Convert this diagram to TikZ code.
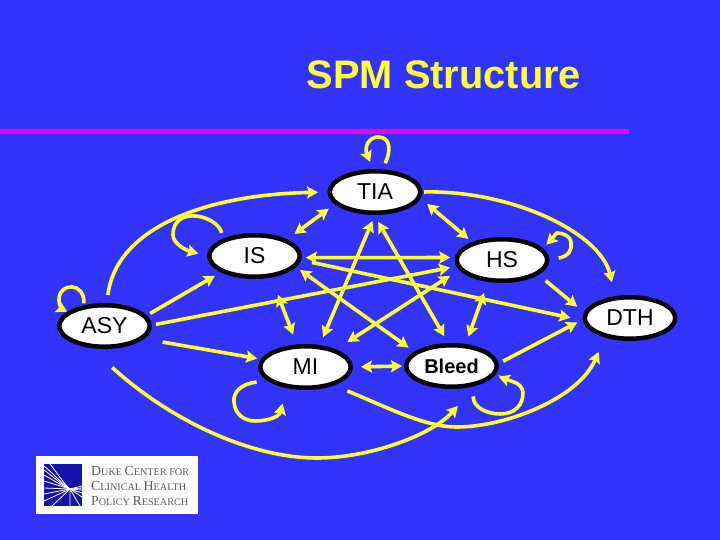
\documentclass[tikz,border=0pt]{standalone}
\usepackage{fontspec}
\setmainfont{Liberation Sans}
\newfontfamily\logofont{Liberation Serif}
\usetikzlibrary{shapes.geometric,arrows.meta}
\definecolor{bgblue}{RGB}{51,51,255}
\definecolor{rulemag}{RGB}{235,0,240}
\definecolor{linkyel}{RGB}{255,255,51}
\definecolor{logoblue}{RGB}{20,20,170}
\definecolor{logotext}{RGB}{90,90,100}
\tikzset{
  x=1pt,y=-1pt,
  state/.style={ellipse,draw=black,fill=white,line width=4.5pt,minimum width=90.5pt,minimum height=41.5pt,inner sep=0pt,text=black,font=\fontsize{23}{26}\selectfont},
  one/.style={draw=linkyel,line width=3.6pt,-{Stealth[length=11pt,width=12pt,inset=2pt]}},
  two/.style={draw=linkyel,line width=3.6pt,{Stealth[length=11pt,width=12pt,inset=2pt]}-{Stealth[length=11pt,width=12pt,inset=2pt]}},
  ray/.style={draw=white,line width=0.8pt},
  logoline/.style={anchor=west,inner sep=0pt,text=logotext,font=\logofont\fontsize{10.2}{12}\selectfont},
}
\newcommand{\bigc}[1]{{\fontsize{13.8}{14}\selectfont #1}}
\begin{document}
\begin{tikzpicture}
\useasboundingbox (0,0) rectangle (720,540);
\fill[bgblue] (0,0) rectangle (720,540);
\node[text=linkyel,inner sep=0pt,font=\bfseries\fontsize{39.8}{44}\selectfont] (title) at (444,75) {SPM Structure};
\fill[rulemag] (0,129.5) rectangle (629,134.5);

\node[state] (TIA) at (375,192) {TIA};
\node[state] (IS) at (254.5,256) {IS};
\node[state] (HS) at (502,260) {HS};
\node[state] (DTH) at (630,318) {DTH};
\node[state] (ASY) at (104.5,326) {\raisebox{-2pt}{ASY}};
\node[state] (MI) at (305.5,367) {\raisebox{-1pt}{MI}};
\node[state,font=\bfseries\fontsize{20}{24}\selectfont] (BL) at (451.5,366) {Bleed};
\coordinate (mA) at (278,295);
\coordinate (mB) at (484,293);

% straight links
\draw[one,shorten <=4pt,shorten >=7pt] (ASY.14.7) -- (IS.206.3);
\draw[one,shorten <=4pt,shorten >=6.5pt] (ASY.1.5) -- (HS.188.4);
\draw[one,shorten <=19pt,shorten >=3.7pt] (ASY.-18.9) -- (MI.170.7);
\draw[two,shorten <=8pt,shorten >=2pt] (MI.0) -- (BL.180);
\draw[one,shorten <=5pt,shorten >=6pt] (BL.3) -- (DTH.182.6);
\draw[one,shorten <=9.3pt,shorten >=8.8pt] (HS.-22.8) -- (DTH.173.4);
\draw[two,shorten <=8.5pt,shorten >=5pt] (TIA.-8.1) -- (HS.149.6);
\draw[two,shorten <=7.5pt,shorten >=9pt] (TIA.197.6) -- (IS.27.6);
\draw[two,shorten <=4pt,shorten >=4.5pt] (IS.-2.4) -- (HS.177.6);
\draw[one,shorten <=11pt,shorten >=12.7pt] (IS.-5.7) -- (DTH.183.3);
\draw[two,shorten <=5pt,shorten >=7pt] (IS.-15) -- (BL.159.8);
\draw[two,shorten <=11pt,shorten >=13.5pt] (HS.193.2) -- (MI.30.4);
\draw[two,shorten <=6.5pt,shorten >=8.7pt] (TIA.270) -- (MI.57.5);
\draw[two,shorten <=8pt,shorten >=8pt] (TIA.268) -- (BL.98.6);
\draw[two,shorten >=10.5pt] (mA) -- (MI.111.8);
\draw[two,shorten >=8pt] (mB) -- (BL.57.3);

% curved links
\draw[one,shorten <=8pt,shorten >=9.5pt] (ASY.84) .. controls (116,230) and (200,195) .. (TIA.180);
\draw[one,shorten <=29pt,shorten >=27pt] (ASY.238) .. controls (170,420) and (250,458) .. (317,458) .. controls (370,458) and (432,435) .. (BL.-39);
\draw[one,shorten <=14.6pt,shorten >=15.7pt] (MI.-33.4) .. controls (390.2,408.6) and (425,427) .. (457,427) .. controls (505,427) and (577.9,399.2) .. (DTH.218.7);
\draw[one,shorten <=1.5pt,shorten >=14.3pt] (TIA.0) .. controls (510,190) and (600,232) .. (DTH.124.5);

% self loops
\draw[one,shorten <=6pt,shorten >=9pt] (IS.151.4) .. controls (217,215) and (173,205) .. (173,235) .. controls (173,243) and (185,250) .. (IS.180);
\draw[one,shorten <=2pt] (ASY.135) .. controls (85,282) and (59,282) .. (59,300) .. controls (59,305) and (62,309) .. (ASY.159.5);
\draw[one,shorten <=11pt,shorten >=16pt] (MI.200.6) .. controls (240,384) and (233,393) .. (234,402) .. controls (235,415) and (245,421) .. (255,421) .. controls (265,421) and (279,418) .. (MI.228.6);
\draw[one,shorten <=10pt,shorten >=4pt] (BL.-43.6) .. controls (473,408) and (488,414) .. (500,414) .. controls (515,414) and (523,405) .. (523,393) .. controls (523,387) and (518,383) .. (512,381.3) .. controls (510,380.6) and (505,379) .. (BL.-12.9);
\draw[one,shorten <=9.5pt,shorten >=5pt] (HS.0) .. controls (569,256) and (572,250) .. (571,243) .. controls (571,236) and (563,233) .. (557,233) .. controls (556,233) and (553,238) .. (HS.16.7);
\draw[one,shorten <=6.7pt,shorten >=7.6pt] (TIA.72.9) .. controls (391,151) and (391,137) .. (378,137) .. controls (369,137) and (364,147) .. (TIA.95);

% logo
\fill[white] (36,456) rectangle (198,514);
\fill[logoblue] (44,464) rectangle (82,506);
\draw[ray] (44,466) .. controls (55,475) and (62,484) .. (70,489) -- (82,486);
\draw[ray] (44,470) .. controls (55,478) and (62,485) .. (70,489) -- (82,488);
\draw[ray] (44,475) .. controls (55,481) and (62,486) .. (70,489) -- (82,490);
\draw[ray] (44,481) -- (70,489) -- (82,493);
\draw[ray] (44,488) -- (70,489) -- (82,497);
\draw[ray] (44,494) -- (70,489) -- (80,506);
\draw[ray] (44,501) -- (70,489) -- (70,506);
\draw[ray] (52,506) -- (70,489);
\draw[ray] (50,464) .. controls (58,474) and (64,484) .. (70,489);
\node[logoline] (logoA) at (91,471) {\bigc{D}UKE \bigc{C}ENTER FOR};
\node[logoline] (logoB) at (91,486) {\bigc{C}LINICAL \bigc{H}EALTH};
\node[logoline] (logoC) at (91,501) {\bigc{P}OLICY \bigc{R}ESEARCH};
\end{tikzpicture}
\end{document}
